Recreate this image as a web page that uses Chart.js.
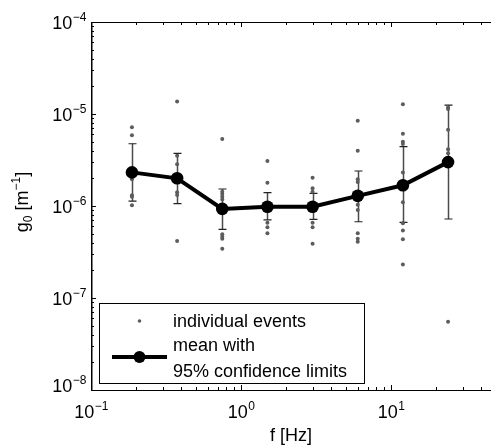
<!DOCTYPE html>
<html>
<head>
<meta charset="utf-8">
<script src="https://cdn.jsdelivr.net/npm/chart.js@4.4.1/dist/chart.umd.min.js"></script>
<style>
html, body { margin: 0; padding: 0; background: #fff; }
canvas { display: block; }
</style>
</head>
<body>
<canvas id="myChart" width="491" height="448"></canvas>
<script>
// frequency bands (Hz)
const freqs = [0.1875, 0.375, 0.75, 1.5, 3, 6, 12, 24];

// mean and 95% confidence limits
const means  = [2.32e-6, 2.0e-6, 9.3e-7, 9.8e-7, 9.8e-7, 1.29e-6, 1.68e-6, 3.0e-6];
const ciHigh = [4.75e-6, 3.74e-6, 1.53e-6, 1.40e-6, 1.37e-6, 2.40e-6, 4.41e-6, 1.25e-5];
const ciLow  = [1.13e-6, 1.06e-6, 5.58e-7, 7.05e-7, 7.17e-7, 6.74e-7, 6.65e-7, 7.22e-7];

// individual events, one list per frequency band
const events = [
    [7.16e-6, 5.86e-6, 1.95e-6, 1.31e-6, 1.26e-6, 1.02e-6],
    [1.37e-5, 3.52e-6, 2.84e-6, 1.41e-6, 1.32e-6, 4.17e-7],
    [5.35e-6, 1.43e-6, 1.35e-6, 1.26e-6, 1.18e-6, 4.92e-7, 4.63e-7, 4.41e-7, 3.44e-7],
    [3.08e-6, 1.79e-6, 6.58e-7, 5.86e-7, 5.05e-7],
    [2.03e-6, 1.56e-6, 1.43e-6, 6.58e-7, 5.86e-7, 3.89e-7],
    [8.45e-6, 3.99e-6, 1.95e-6, 1.82e-6, 1.03e-6, 9.06e-7, 5.05e-7, 4.41e-7, 4.09e-7],
    [1.28e-5, 6.11e-6, 5.0e-6, 4.72e-6, 2.32e-6, 1.10e-6, 6.5e-7, 5.4e-7, 4.35e-7, 2.32e-7],
    [1.18e-5, 1.13e-5, 6.75e-6, 4.13e-6, 3.74e-6, 5.52e-8]
];

// decade exponents used as tick labels
const xDecades = [-1, 0, 1];
const yDecades = [-8, -7, -6, -5, -4];

const legendLabels = ['individual events', 'mean with', '95% confidence limits'];

const FONT = '"Liberation Sans", Arial, Helvetica, sans-serif';
const dotColor = '#5c5c5c';

const event_points = [];
events.forEach((list, i) => list.forEach(v => event_points.push({x: freqs[i], y: v})));
const mean_points = freqs.map((f, i) => ({x: f, y: means[i]}));

const events_dataset = {
    label: 'individual events',
    data: event_points,
    showLine: false,
    pointRadius: 2,
    pointBackgroundColor: dotColor,
    pointBorderWidth: 0,
    order: 2
};
const mean_dataset = {
    label: 'mean with 95% confidence limits',
    data: mean_points,
    showLine: true,
    borderColor: '#000',
    borderWidth: 4,
    pointRadius: 6.3,
    pointBackgroundColor: '#000',
    pointBorderWidth: 0,
    tension: 0,
    order: 1
};

function supText(ctx, base, exp, x, y, align) {
    ctx.font = '18px ' + FONT;
    const wb = ctx.measureText(base).width;
    ctx.font = '12px ' + FONT;
    const we = ctx.measureText(exp).width;
    let x0 = x;
    if (align === 'center') x0 = x - (wb + we) / 2;
    else if (align === 'right') x0 = x - wb - we;
    ctx.textAlign = 'left';
    ctx.textBaseline = 'alphabetic';
    ctx.font = '18px ' + FONT;
    ctx.fillText(base, x0, y);
    ctx.font = '12px ' + FONT;
    ctx.fillText(exp, x0 + wb + 0.5, y - 8);
}

const errorBars = {
    id: 'errorBars',
    beforeDatasetsDraw(chart) {
        const {ctx, scales: {x, y}} = chart;
        ctx.save();
        freqs.forEach((f, i) => {
            const px = Math.round(x.getPixelForValue(f)) + 0.5;
            const top = y.getPixelForValue(ciHigh[i]);
            const bot = y.getPixelForValue(ciLow[i]);
            ctx.strokeStyle = '#4a4a4a';
            ctx.lineWidth = 1.5;
            ctx.beginPath();
            ctx.moveTo(px, top);
            ctx.lineTo(px, bot);
            ctx.stroke();
            ctx.strokeStyle = '#222';
            ctx.lineWidth = 1.2;
            ctx.beginPath();
            ctx.moveTo(px - 4, top); ctx.lineTo(px + 4, top);
            ctx.moveTo(px - 4, bot); ctx.lineTo(px + 4, bot);
            ctx.stroke();
        });
        ctx.restore();
    }
};

const frame = {
    id: 'frame',
    afterDraw(chart) {
        const {ctx, chartArea: a, scales: {x, y}} = chart;
        ctx.save();
        ctx.strokeStyle = '#000';
        ctx.lineWidth = 1;
        ctx.strokeRect(a.left + 0.5, a.top + 0.5, a.right - a.left + 4, a.bottom - a.top);
        // left axis a bit heavier, as in the original
        ctx.lineWidth = 1.5;
        ctx.beginPath();
        ctx.moveTo(a.left + 0.75, a.top);
        ctx.lineTo(a.left + 0.75, a.bottom + 1);
        ctx.stroke();
        ctx.lineWidth = 1;

        // inward ticks
        ctx.beginPath();
        for (let d = -1; d <= 1; d++) {
            for (let m = 1; m <= 9; m++) {
                const v = m * Math.pow(10, d);
                if (v < x.min || v > x.max) continue;
                const px = Math.round(x.getPixelForValue(v)) + 0.5;
                const len = m === 1 ? 5 : 3;
                ctx.moveTo(px, a.bottom); ctx.lineTo(px, a.bottom - len);
                ctx.moveTo(px, a.top); ctx.lineTo(px, a.top + len);
            }
        }
        for (let d = -8; d <= -4; d++) {
            for (let m = 1; m <= 9; m++) {
                const v = m * Math.pow(10, d);
                if (v < y.min || v > y.max) continue;
                const py = Math.round(y.getPixelForValue(v)) + 0.5;
                const len = m === 1 ? 5 : 3;
                ctx.moveTo(a.left, py); ctx.lineTo(a.left + len, py);
            }
        }
        ctx.stroke();

        // tick labels
        ctx.fillStyle = '#000';
        xDecades.forEach(d => {
            const px = x.getPixelForValue(Math.pow(10, d));
            supText(ctx, '10', d < 0 ? '\u2212' + (-d) : String(d), px, 418, 'center');
        });
        yDecades.forEach(d => {
            const py = y.getPixelForValue(Math.pow(10, d));
            const base = d === -8 ? py + 2 : py + 7;
            supText(ctx, '10', '\u2212' + (-d), 86, base, 'right');
        });

        // axis titles
        ctx.font = '18px ' + FONT;
        ctx.textAlign = 'center';
        ctx.textBaseline = 'alphabetic';
        ctx.fillText('f [Hz]', (a.left + a.right) / 2, 441);

        ctx.save();
        ctx.translate(28, 202);
        ctx.rotate(-Math.PI / 2);
        const parts = [['g', 18, 0], ['0', 12, 4], [' [m', 18, 0], ['\u22121', 12, -8], [']', 18, 0]];
        let total = 0;
        parts.forEach(p => { ctx.font = p[1] + 'px ' + FONT; total += ctx.measureText(p[0]).width; });
        let cx = -total / 2;
        ctx.textAlign = 'left';
        parts.forEach(p => {
            ctx.font = p[1] + 'px ' + FONT;
            ctx.fillText(p[0], cx, p[2]);
            cx += ctx.measureText(p[0]).width;
        });
        ctx.restore();

        // legend
        ctx.fillStyle = '#fff';
        ctx.fillRect(99.5, 303.5, 265, 80);
        ctx.strokeStyle = '#000';
        ctx.lineWidth = 1;
        ctx.strokeRect(99.5, 303.5, 265, 80);
        ctx.fillStyle = dotColor;
        ctx.beginPath();
        ctx.arc(139.5, 321, 1.8, 0, Math.PI * 2);
        ctx.fill();
        ctx.strokeStyle = '#000';
        ctx.lineWidth = 4;
        ctx.beginPath();
        ctx.moveTo(112, 357); ctx.lineTo(167, 357);
        ctx.stroke();
        ctx.fillStyle = '#000';
        ctx.beginPath();
        ctx.arc(139.5, 357, 6, 0, Math.PI * 2);
        ctx.fill();
        ctx.font = '18px ' + FONT;
        ctx.textAlign = 'left';
        ctx.fillText(legendLabels[0], 173, 327);
        ctx.fillText(legendLabels[1], 173, 351);
        ctx.fillText(legendLabels[2], 173, 377);
        ctx.restore();
    }
};

const ctx = document.getElementById('myChart');

const myChart = new Chart(ctx, {
    type: 'scatter',
    data: { datasets: [events_dataset, mean_dataset] },
    options: {
        responsive: false,
        animation: false,
        devicePixelRatio: 1,
        layout: { autoPadding: false, padding: { top: 22, right: 0, bottom: 0, left: 0 } },
        plugins: { legend: { display: false }, tooltip: { enabled: false } },
        scales: {
            x: {
                type: 'logarithmic',
                min: 0.1,
                max: 46.4,
                grid: { display: false, drawTicks: false },
                border: { display: false },
                ticks: { display: false },
                afterFit: s => { s.height = 58; }
            },
            y: {
                type: 'logarithmic',
                min: 1e-8,
                max: 1e-4,
                grid: { display: false, drawTicks: false },
                border: { display: false },
                ticks: { display: false },
                afterFit: s => { s.width = 91; }
            }
        }
    },
    plugins: [errorBars, frame]
});
</script>
</body>
</html>
